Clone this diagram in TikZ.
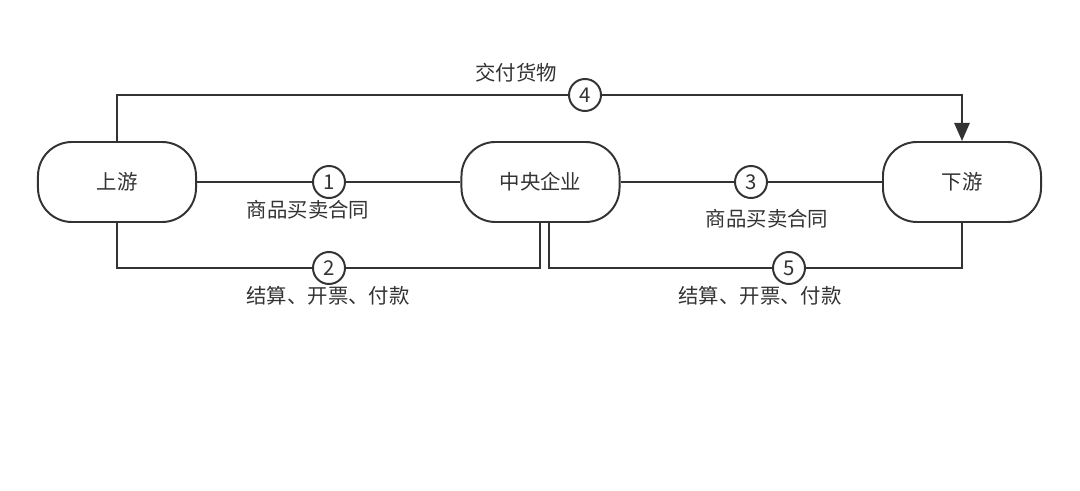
\documentclass[tikz,border=0pt]{standalone}
\usepackage{fontspec}
\setmainfont{Noto Sans CJK SC}
\usetikzlibrary{arrows.meta}
\definecolor{ink}{HTML}{333333}
\begin{document}
\begin{tikzpicture}[x=0.025cm,y=-0.025cm,
  party/.style={draw=ink,line width=1.4pt,rounded corners=0.85cm,minimum width=3.95cm,minimum height=2cm,text=ink,font=\fontsize{14.5}{16}\selectfont},
  stepno/.style={draw=ink,fill=white,line width=1.4pt,circle,inner sep=0pt,minimum size=0.8cm,text=ink,font=\fontsize{14.5}{16}\selectfont},
  flowlabel/.style={text=ink,font=\fontsize{14.5}{16}\selectfont,inner sep=0pt},
  flow/.style={draw=ink,line width=1.4pt}]
\useasboundingbox (0,0) rectangle (1080,491);
\node[party] (up) at (117,182) {上游};
\node[party] (mid) at (540.5,182) {中央企业};
\node[party] (down) at (962,182) {下游};
\node[stepno] (s1) at (329,182) {1};
\node[stepno] (s2) at (329,268) {2};
\node[stepno] (s3) at (751,182) {3};
\node[stepno] (s4) at (585,95) {4};
\node[stepno] (s5) at (789,268) {5};
\node[flowlabel] (l1) at (308,210) {商品买卖合同};
\node[flowlabel] (l2) at (328,296) {结算、开票、付款};
\node[flowlabel] (l3) at (767,219) {商品买卖合同};
\node[flowlabel] (l4) at (516,73) {交付货物};
\node[flowlabel] (l5) at (760,296) {结算、开票、付款};
\draw[flow] (up.east) -- (s1) -- (mid.west);
\draw[flow] (mid.east) -- (s3) -- (down.west);
\draw[flow] (up.north) |- (s4.west);
\draw[flow,-{Triangle[length=0.45cm,width=0.38cm]}] (s4.east) -| (down.north);
\draw[flow] (up.south) |- (s2.west);
\draw[flow] (s2.east) -| ([xshift=-0.01cm]mid.south);
\draw[flow] ([xshift=0.22cm]mid.south) |- (s5.west);
\draw[flow] (s5.east) -| (down.south);
\end{tikzpicture}
\end{document}
